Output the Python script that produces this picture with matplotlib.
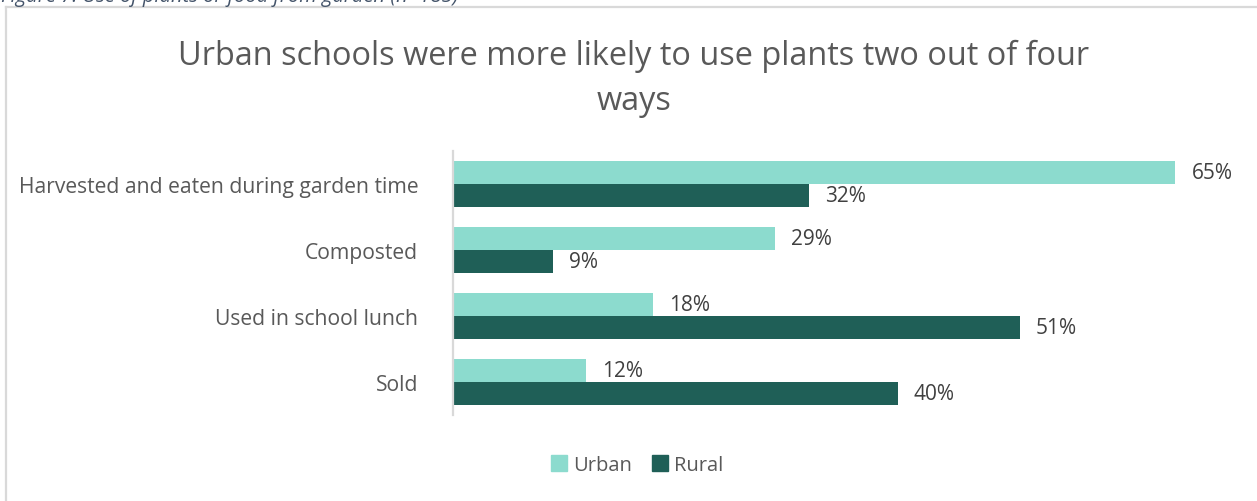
import matplotlib
matplotlib.use("Agg")
import matplotlib.pyplot as plt
from matplotlib.lines import Line2D
from matplotlib.patches import Patch
import numpy as np

categories = ["Harvested and eaten during garden time", "Composted",
              "Used in school lunch", "Sold"]
urban = [65, 29, 18, 12]
rural = [32, 9, 51, 40]
series_names = ["Urban", "Rural"]
title = "Urban schools were more likely to use plants two out of four\nways"
caption = "Figure 7: Use of plants or food from garden (n=185)"

URBAN_C = "#8CDBCE"
RURAL_C = "#1F5F57"
TEXT_C = "#595959"
LABEL_C = "#404040"
FONT = ["Open Sans", "DejaVu Sans"]

W, H = 1257, 502
fig = plt.figure(figsize=(W / 100, H / 100), dpi=100)
fig.patch.set_facecolor("white")

# chart frame (left and top edges)
fig.add_artist(Line2D([6 / W, 6 / W], [0, 1 - 8 / H], transform=fig.transFigure,
                      color="#D9D9D9", lw=1.6))
fig.add_artist(Line2D([6 / W, 1], [1 - 8 / H, 1 - 8 / H], transform=fig.transFigure,
                      color="#D9D9D9", lw=1.6))

# caption sitting above the frame
fig.text(1 / W, 1 - 2 / H, caption, ha="left", va="baseline", fontsize=14.5,
         style="italic", color="#44546A", family=FONT)

ax = fig.add_axes([453 / W, 1 - 416 / H, (1231 - 453) / W, (416 - 152) / H])

y = np.arange(len(categories))
bh = 0.356
ax.barh(y - bh / 2, urban, height=bh, color=URBAN_C, label=series_names[0])
ax.barh(y + bh / 2, rural, height=bh, color=RURAL_C, label=series_names[1])

for yi, u, r in zip(y, urban, rural):
    ax.annotate(f"{u}%", (u, yi - bh / 2), xytext=(11.5, 0), textcoords="offset points",
                ha="left", va="center", fontsize=15, color=LABEL_C, family=FONT)
    ax.annotate(f"{r}%", (r, yi + bh / 2), xytext=(11.5, 0), textcoords="offset points",
                ha="left", va="center", fontsize=15, color=LABEL_C, family=FONT)

ax.set_xlim(0, 70)
ax.set_ylim(len(categories) - 0.5, -0.5)
ax.set_yticks(y)
ax.set_yticklabels(categories, fontsize=15.2, color=TEXT_C, family=FONT)
ax.tick_params(axis="y", length=0, pad=25)
ax.set_xticks([])
for s in ["top", "right", "bottom"]:
    ax.spines[s].set_visible(False)
ax.spines["left"].set_color("#D9D9D9")
ax.spines["left"].set_linewidth(1.6)

fig.text(634 / W, 1 - 79 / H, title, ha="center", va="center", fontsize=23.4,
         color=TEXT_C, family=FONT, linespacing=1.5)

handles = [Patch(color=URBAN_C, label=series_names[0]),
           Patch(color=RURAL_C, label=series_names[1])]
fig.legend(handles=handles, loc="center", bbox_to_anchor=(637 / W, 1 - 466 / H),
           ncol=2, frameon=False, handlelength=0.8, handleheight=0.8,
           handletextpad=0.3, columnspacing=1.0,
           prop={"family": FONT, "size": 14.5}, labelcolor=TEXT_C)

fig.savefig("out.png", dpi=100, facecolor="white")
